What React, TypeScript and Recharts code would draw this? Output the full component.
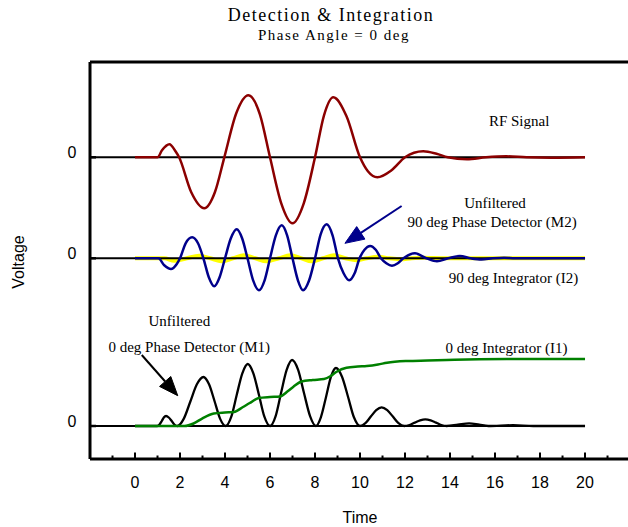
import { LineChart, Line, XAxis, YAxis, ReferenceLine, ReferenceDot } from 'recharts';

const SERIF = '"Liberation Serif", "Times New Roman", serif';
const SANS = '"Liberation Sans", Arial, sans-serif';

// Axes
const TIME_DOMAIN: [number, number] = [-2, 21.91];
const TIME_TICKS = [-1, 0, 1, 2, 3, 4, 5, 6, 7, 8, 9, 10, 11, 12, 13, 14, 15, 16, 17, 18, 19, 20, 21];
const VOLT_DOMAIN: [number, number] = [0, 397];

// zero level of each channel on the shared voltage axis
const RF_ZERO = 301.7;
const M2_ZERO = 200.7;
const M1_ZERO = 33;
const TRACE_END = [-2, 20];

// RF signal
const rfTime = [0, 1.0, 1.2, 1.53, 1.8, 1.96, 2.5, 3.08, 3.55, 3.97, 4.5, 5.04, 5.55, 6.0, 6.5, 7.0, 7.5, 8.0, 8.4, 8.81, 9.4, 10.0, 10.35, 10.77, 11.4, 12.0, 12.4, 12.81, 13.4, 13.9, 14.75, 15.6, 16.5, 17.4, 18.5, 20];
const rfVolt = [0, 0, 7, 13, 6, 0, -35, -51, -35, 0, 44, 62, 43, 0, -46, -66, -46, 0, 42, 60, 41, 0, -14, -20, -13, 0, 4.5, 6, 3.5, 0, -2, 0, 1, 0, -0.4, 0];

// Unfiltered 90 deg phase detector (M2)
const m2Time = [0, 1.04, 1.3, 1.6, 1.85, 2.0, 2.25, 2.54, 2.8, 3.04, 3.28, 3.52, 3.76, 4.0, 4.26, 4.52, 4.76, 5.0, 5.25, 5.51, 5.76, 6.0, 6.26, 6.52, 6.76, 7.0, 7.24, 7.47, 7.74, 8.0, 8.25, 8.52, 8.78, 9.02, 9.27, 9.52, 9.76, 9.98, 10.2, 10.45, 10.7, 10.93, 11.17, 11.42, 11.68, 11.93, 12.44, 12.95, 13.42, 13.92, 14.44, 14.92, 15.4, 15.9, 16.4, 16.9, 20];
const m2Volt = [0, 0, -7, -10.7, -6, 0, 15, 21, 15, 0, -19, -28, -19, 0, 20, 29, 20, 0, -22, -32, -22, 0, 23, 33, 23, 0, -22, -32, -22, 0, 24, 34, 23, 0, -15, -22, -15, 0, 8.5, 12.3, 8.5, 0, -5, -7.4, -5, 0, 5, 0, -3, 0, 2.3, 0, -1.2, 0, 0.6, 0, 0];

// 90 deg integrator (I2)
const i2Time = [0, 1.3, 1.75, 2.3, 2.85, 3.35, 3.85, 4.35, 4.85, 5.35, 5.85, 6.4, 6.9, 7.4, 7.85, 8.35, 8.85, 9.35, 9.85, 10.3, 10.8, 11.3, 11.8, 12.3, 12.8, 13.8, 20];
const i2Volt = [0, 0, -2.5, 0, 2.5, 0, -3, 0, 3, 0, -3, 0, 3, 0, -3, 0, 3, 0, -2, 0, 1.5, 0, -1, 0, 0.5, 0, 0];

// Unfiltered 0 deg phase detector (M1)
const m1Time = [
  0, 0.99, 1.09, 1.19, 1.28, 1.38, 1.5, 1.63, 1.75, 1.88,
  2.17, 2.46, 2.75, 3.04, 3.29, 3.54, 3.78, 4.03,
  4.28, 4.52, 4.77, 5.01, 5.26, 5.51, 5.75, 6.0,
  6.25, 6.49, 6.74, 6.98, 7.25, 7.51, 7.78, 8.04,
  8.26, 8.49, 8.71, 8.93, 9.2, 9.47, 9.73, 10.0,
  10.24, 10.48, 10.72, 10.96, 11.21, 11.46, 11.71, 11.96,
  12.2, 12.43, 12.67, 12.9, 13.14, 13.38, 13.61, 13.85,
  14.35, 14.85, 15.3, 15.7, 16.8, 17.7, 20,
];
const m1Volt = [
  0, 0, 1.5, 5, 8.5, 10, 8.5, 5, 1.5, 0,
  7.4, 24.5, 41.7, 49, 41.7, 24.5, 7.4, 0,
  9.3, 31, 52.7, 62, 52.7, 31, 9.3, 0,
  9.9, 33, 56.1, 66, 56.1, 33, 9.9, 0,
  8.7, 29, 49.3, 58, 49.3, 29, 8.7, 0,
  2.8, 9.4, 15.9, 18.7, 15.9, 9.4, 2.8, 0,
  1, 3.4, 5.7, 6.7, 5.7, 3.4, 1, 0,
  1.4, 2.7, 1.3, 0, 0.8, 0, 0,
];

// 0 deg integrator (I1)
const i1Time = [0, 2.2, 2.6, 3.0, 3.5, 4.0, 4.4, 4.8, 5.1, 5.5, 6.0, 6.44, 6.8, 7.04, 7.4, 7.9, 8.4, 8.7, 8.96, 9.4, 9.9, 10.3, 10.8, 11.2, 12.1, 13.0, 13.85, 15.3, 17, 20];
const i1Volt = [0, 0, 2.5, 7.7, 12.5, 13.5, 14, 19, 23, 28, 29, 29.5, 35, 39.3, 44.5, 46, 47, 50, 54.3, 58.3, 59.5, 60, 61.5, 63.3, 65, 65.5, 66, 66.7, 67, 67];

// annotations (time, voltage on shared axis)
const NOTES = [
  { text: 'RF Signal', t: 17.07, v: 337.7 },
  { text: 'Unfiltered', t: 16.0, v: 256.5 },
  { text: '90 deg Phase Detector (M2)', t: 15.87, v: 237.3 },
  { text: '90 deg Integrator (I2)', t: 16.82, v: 180.7 },
  { text: 'Unfiltered', t: 1.97, v: 137.7 },
  { text: '0 deg Phase Detector (M1)', t: 2.41, v: 111.8 },
  { text: '0 deg Integrator (I1)', t: 16.51, v: 110.7 },
];

const ARROWS = [
  { from: { t: 11.85, v: 253 }, to: { t: 9.33, v: 215.7 }, color: '#00008B' },
  { from: { t: 0.3, v: 104 }, to: { t: 1.9, v: 63.3 }, color: '#000000' },
];

const series = (time: number[], volt: number[], zero: number) =>
  time.map((t, i) => ({ t, v: zero + volt[i] }));

const flat = (zero: number) => TRACE_END.map((t) => ({ t, v: zero }));

const rfData = series(rfTime, rfVolt, RF_ZERO);
const m2Data = series(m2Time, m2Volt, M2_ZERO);
const i2Data = series(i2Time, i2Volt, M2_ZERO);
const m1Data = series(m1Time, m1Volt, M1_ZERO);
const i1Data = series(i1Time, i1Volt, M1_ZERO);

const TimeTick = (props: any) => {
  const { x, y, payload } = props;
  const val = payload.value;
  const major = val % 2 === 0;
  return (
    <g>
      <line x1={x} x2={x} y1={y} y2={y - (major ? 6.5 : 3.5)} stroke="#000" strokeWidth={2} />
      {major && val >= 0 && val <= 20 && (
        <text x={x} y={y + 29} textAnchor="middle" fontFamily={SANS} fontSize={16} fill="#000">
          {val}
        </text>
      )}
    </g>
  );
};

const ZeroTick = (props: any) => {
  const { x, y } = props;
  return (
    <g>
      <line x1={x} x2={x + 6} y1={y} y2={y} stroke="#000" strokeWidth={2.5} />
      <text x={x - 18} y={y + 1} textAnchor="middle" fontFamily={SANS} fontSize={16} fill="#000">
        0
      </text>
    </g>
  );
};

const arrowShape = (color: string) => (p: any) => {
  const { x1, y1, x2, y2 } = p;
  const dx = x2 - x1;
  const dy = y2 - y1;
  const len = Math.hypot(dx, dy) || 1;
  const ux = dx / len;
  const uy = dy / len;
  const head = 19;
  const half = 7.5;
  const bx = x2 - ux * head;
  const by = y2 - uy * head;
  const pts = `${x2},${y2} ${bx - uy * half},${by + ux * half} ${bx + uy * half},${by - ux * half}`;
  return (
    <g>
      <line x1={x1} y1={y1} x2={bx} y2={by} stroke={color} strokeWidth={2} />
      <polygon points={pts} fill={color} stroke={color} strokeWidth={1} />
    </g>
  );
};

const noteShape = (text: string) => (p: any) => (
  <text x={p.cx} y={p.cy + 5} textAnchor="middle" fontFamily={SERIF} fontSize={15} fill="#000">
    {text}
  </text>
);

export default function App() {
  return (
    <div style={{ position: 'absolute', left: 0, top: 0, width: 628, height: 527, background: '#fff' }}>
      <LineChart width={628} height={527} margin={{ top: 62, right: 0, bottom: 0, left: 0 }}>
        <XAxis
          type="number"
          dataKey="t"
          domain={TIME_DOMAIN}
          ticks={TIME_TICKS}
          interval={0}
          height={68}
          tickLine={false}
          tickSize={0}
          tickMargin={0}
          axisLine={{ stroke: '#000', strokeWidth: 3 }}
          tick={(p: any) => <TimeTick {...p} />}
        />
        <YAxis
          type="number"
          dataKey="v"
          domain={VOLT_DOMAIN}
          ticks={[M1_ZERO, M2_ZERO, RF_ZERO]}
          interval={0}
          width={90}
          tickLine={false}
          tickSize={0}
          tickMargin={0}
          axisLine={{ stroke: '#000', strokeWidth: 3 }}
          tick={(p: any) => <ZeroTick {...p} />}
        />
        <ReferenceLine y={VOLT_DOMAIN[1]} stroke="#000" strokeWidth={3} />

        <Line data={i2Data} dataKey="v" type="monotone" stroke="#FFFF00" strokeWidth={4} dot={false} isAnimationActive={false} />
        <Line data={flat(RF_ZERO)} dataKey="v" type="linear" stroke="#000" strokeWidth={2} dot={false} isAnimationActive={false} />
        <Line data={flat(M2_ZERO)} dataKey="v" type="linear" stroke="#000" strokeWidth={2} dot={false} isAnimationActive={false} />
        <Line data={flat(M1_ZERO)} dataKey="v" type="linear" stroke="#000" strokeWidth={2} dot={false} isAnimationActive={false} />
        <Line data={rfData} dataKey="v" type="monotone" stroke="#8B0000" strokeWidth={2.5} dot={false} isAnimationActive={false} />
        <Line data={m2Data} dataKey="v" type="monotone" stroke="#00008B" strokeWidth={2.5} dot={false} isAnimationActive={false} />
        <Line data={m1Data} dataKey="v" type="monotone" stroke="#000" strokeWidth={2.3} dot={false} isAnimationActive={false} />
        <Line data={i1Data} dataKey="v" type="monotone" stroke="#008000" strokeWidth={2.5} dot={false} isAnimationActive={false} />

        {ARROWS.map((a, i) => (
          <ReferenceLine
            key={`arrow-${i}`}
            segment={[{ x: a.from.t, y: a.from.v }, { x: a.to.t, y: a.to.v }]}
            shape={arrowShape(a.color)}
          />
        ))}
        {NOTES.map((n, i) => (
          <ReferenceDot key={`note-${i}`} x={n.t} y={n.v} r={0} shape={noteShape(n.text)} />
        ))}
      </LineChart>

      <svg width={628} height={527} style={{ position: 'absolute', left: 0, top: 0, pointerEvents: 'none' }}>
        <text x={331} y={21} textAnchor="middle" fontFamily={SERIF} fontSize={18} letterSpacing={1.5} fill="#000">
          Detection &amp; Integration
        </text>
        <text x={334} y={40} textAnchor="middle" fontFamily={SERIF} fontSize={15} letterSpacing={1.5} fill="#000">
          Phase Angle = 0 deg
        </text>
        <text x={18} y={262} transform="rotate(-90 18 262)" textAnchor="middle" dominantBaseline="central" fontFamily={SANS} fontSize={16} fill="#000">
          Voltage
        </text>
        <text x={360} y={523} textAnchor="middle" fontFamily={SANS} fontSize={16} fill="#000">
          Time
        </text>
      </svg>
    </div>
  );
}
